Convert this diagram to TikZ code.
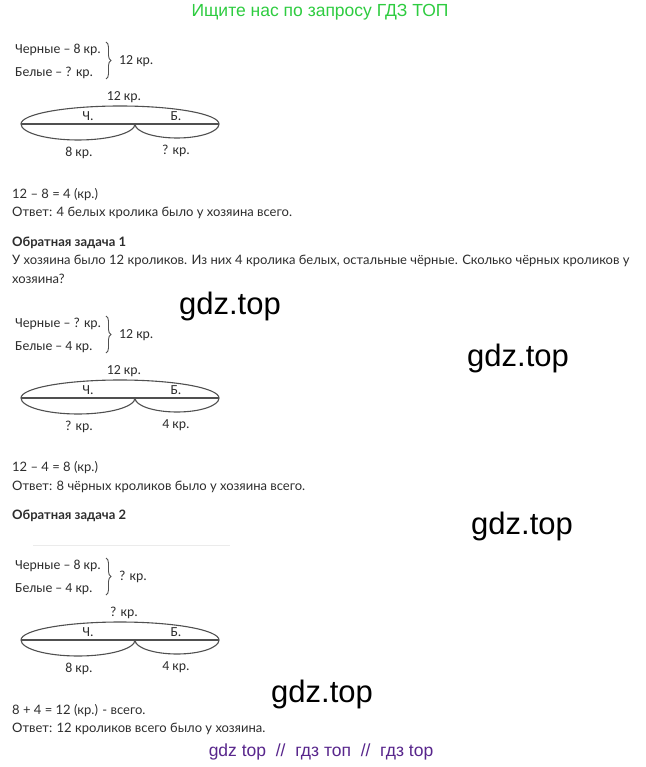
\documentclass[tikz,border=0pt]{standalone}
\usepackage{fontspec}
\setmainfont{Lato}
\newfontfamily\diagfont[Ligatures=TeX]{Carlito}
\newfontfamily\wmfont{Liberation Sans}
\usetikzlibrary{decorations.pathreplacing}
\definecolor{hdrgreen}{RGB}{46,204,64}
\definecolor{wmpurple}{RGB}{88,38,140}
\definecolor{txt}{RGB}{45,45,45}
\definecolor{dline}{RGB}{80,80,80}
\tikzset{
  body/.style={anchor=west, inner sep=0pt, text=txt, font=\fontsize{13}{15}\selectfont},
  bodybold/.style={anchor=west, inner sep=0pt, text=txt, font=\fontsize{13}{15}\selectfont\bfseries},
  dlabel/.style={inner sep=0pt, text=txt, font=\diagfont\fontsize{13.8}{15}\selectfont},
  wm/.style={inner sep=0pt, text=black, font=\wmfont\fontsize{31}{35}\selectfont},
  arcline/.style={draw=dline, line width=1.1pt},
  bracestyle/.style={draw=dline, line width=0.9pt, decorate, decoration={brace, amplitude=5pt}},
}
\newcommand{\schema}[8]{%
  \begin{scope}[yshift=-#1pt]
    \node[dlabel, anchor=west] (#8c) at (15,74) {Черные – #2};
    \node[dlabel, anchor=west] (#8b) at (15,51) {Белые – #3};
    \coordinate (#8bt) at (106,82);
    \coordinate (#8bb) at (106,45);
    \draw[bracestyle] (#8bt) -- (#8bb);
    \node[dlabel, anchor=west] (#8sum) at (119,63) {#4};
    \coordinate (#8L) at (21,0);
    \coordinate (#8M) at (135,0);
    \coordinate (#8R) at (219,0);
    \draw[arcline] (#8L) -- (#8R);
    \draw[draw=dline, line width=1.4pt] (78,0) -- (108,0);
    \draw[arcline] (#8R) arc[start angle=0, end angle=180, x radius=99, y radius=18];
    \draw[arcline] (#8L) arc[start angle=180, end angle=360, x radius=57, y radius=16];
    \draw[arcline] (#8M) arc[start angle=180, end angle=360, x radius=42, y radius=14];
    \node[dlabel] (#8top) at (124,27) {#5};
    \node[dlabel] (#8ch) at (88,8) {Ч.};
    \node[dlabel] (#8be) at (176,8) {Б.};
    \node[dlabel] (#8bl) at (79,-29) {#6};
    \node[dlabel] (#8br) at (176,-27) {#7};
  \end{scope}}
\begin{document}
\begin{tikzpicture}[x=1pt, y=1pt]
  \useasboundingbox[fill=white] (0,0) rectangle (645,-767);
  \node[inner sep=0pt, text=hdrgreen, font=\wmfont\fontsize{17.5}{20}\selectfont] (hdr) at (320,-12) {Ищите нас по запросу ГДЗ ТОП};

  \schema{124}{8 кр.}{? кр.}{12 кр.}{12 кр.}{8 кр.}{? кр.}{a}

  \node[body] (t1) at (12,-195) {12 – 8 = 4 (кр.)};
  \node[body] (t2) at (12,-213) {Ответ: 4 белых кролика было у хозяина всего.};
  \node[bodybold] (t3) at (12,-243) {Обратная задача 1};
  \node[body] (t4) at (12,-261) {У хозяина было 12 кроликов. Из них 4 кролика белых, остальные чёрные. Сколько чёрных кроликов у};
  \node[body] (t5) at (12,-279) {хозяина?};

  \schema{398}{? кр.}{4 кр.}{12 кр.}{12 кр.}{? кр.}{4 кр.}{b}

  \node[body] (t6) at (12,-468) {12 – 4 = 8 (кр.)};
  \node[body] (t7) at (12,-487) {Ответ: 8 чёрных кроликов было у хозяина всего.};
  \node[bodybold] (t8) at (12,-516) {Обратная задача 2};

  \draw[black!8, line width=0.8pt] (33,-545) -- (230,-545);

  \schema{640}{8 кр.}{4 кр.}{? кр.}{? кр.}{8 кр.}{4 кр.}{c}

  \node[body] (t9) at (12,-711) {8 + 4 = 12 (кр.) - всего.};
  \node[body] (t10) at (12,-729) {Ответ: 12 кроликов всего было у хозяина.};

  \node[wm] (w1) at (230,-306) {gdz.top};
  \node[wm] (w2) at (518,-358) {gdz.top};
  \node[wm] (w3) at (522,-526) {gdz.top};
  \node[wm] (w4) at (322,-694) {gdz.top};

  \node[inner sep=0pt, text=wmpurple, font=\wmfont\fontsize{17.5}{20}\selectfont] (ftr) at (321,-752) {gdz top~~//~~гдз топ~~//~~гдз top};
\end{tikzpicture}
\end{document}
